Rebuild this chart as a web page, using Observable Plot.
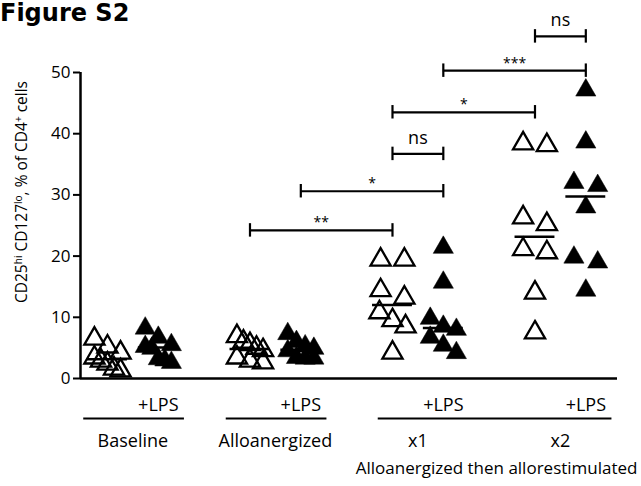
<!DOCTYPE html>
<html><head><meta charset="utf-8">
<script src="https://cdn.jsdelivr.net/npm/d3@7"></script>
<script src="https://cdn.jsdelivr.net/npm/@observablehq/plot@0.6"></script>
<style>
body{margin:0;background:#fff;}
#chart{position:relative;width:641px;height:486px;overflow:hidden;}
</style></head><body><div id="chart"></div>
<script>
// ---- data ----
const groups = ["Baseline", "Alloanergized", "x1", "x2"];
const lpsLabel = "+LPS";
const bottomLabel = "Alloanergized then allorestimulated";
const titleText = "Figure S2";
const baselineOpen = [6.5, 5.2, 4.2, 3.4, 2.9, 2.4, 1.6, 1.3];
const baselineLPS  = [8.2, 6.7, 5.5, 5.2, 4.9, 3.2, 3.0, 2.6];
const alloOpen     = [6.9, 6.0, 5.6, 5.0, 4.6, 3.4, 2.9, 2.6];
const alloLPS      = [7.3, 6.0, 5.3, 4.9, 4.5, 3.4, 3.3, 3.3];
const x1Open       = [19.4, 19.4, 14.4, 13.2, 10.8, 9.5, 8.5, 4.2];
const x1LPS        = [21.4, 15.7, 9.8, 8.5, 8.0, 6.7, 5.4, 4.2];
const x2Open       = [38.4, 38.1, 26.3, 25.2, 21.1, 20.6, 14.0, 7.5];
const x2LPS        = [47.1, 38.6, 32.0, 31.5, 28.0, 19.8, 19.0, 14.4];
const yTicks = [0, 10, 20, 30, 40, 50];
// significance comparisons
const sigLabels    = ["**", "*", "ns", "*", "***", "ns"];
const sigFromGroup = [1, 1, 2, 2, 2, 3];
const sigFromLPS   = [0, 1, 0, 0, 1, 0];
const sigToGroup   = [2, 2, 2, 3, 3, 3];
const sigToLPS     = [0, 1, 1, 0, 1, 1];
const sigHeights   = [24.2, 30.6, 36.7, 43.5, 50.3, 55.9];
const yLabelParts = [["CD25", false], ["hi", true], [" CD127", false], ["lo", true], [", % of CD4", false], ["+", true], [" cells", false]];

// ---- layout helpers ----
const pos = (g, lps) => 3 * g + 1.07 * lps;
function jitter(values) {
  const idx = values.map((v, i) => i).sort((a, b) => values[b] - values[a]);
  const off = new Array(values.length).fill(0);
  let i = 0;
  while (i < idx.length) {
    const top = values[idx[i]];
    let j = i;
    while (j < idx.length && top - values[idx[j]] < 2.8) j++;
    const k = j - i, w = Math.min((k - 1) * 0.5, 0.55);
    for (let m = 0; m < k; m++) off[idx[i + m]] = k === 1 ? 0 : -w / 2 + w * m / (k - 1);
    i = j;
  }
  return off;
}
const series = [
  [0, 0, baselineOpen], [0, 1, baselineLPS],
  [1, 0, alloOpen], [1, 1, alloLPS],
  [2, 0, x1Open], [2, 1, x1LPS],
  [3, 0, x2Open], [3, 1, x2LPS]
];
const points = [], medians = [];
for (const [g, lps, vals] of series) {
  const off = jitter(vals);
  vals.forEach((v, i) => points.push({g, lps, v, x: pos(g, lps) + off[i]}));
  medians.push({g, lps, m: d3.median(vals), x: pos(g, lps)});
}
const sig = sigLabels.map((label, i) => ({
  label, h: sigHeights[i],
  a: pos(sigFromGroup[i], sigFromLPS[i]), b: pos(sigToGroup[i], sigToLPS[i])
}));
const caps = sig.flatMap(d => [{x: d.a, h: d.h}, {x: d.b, h: d.h}]);
const lpsRows = groups.map((g, i) => ({x: pos(i, 1), t: lpsLabel}));
const groupRows = groups.map((g, i) => ({x: (pos(i, 0) + pos(i, 1)) / 2, t: g}));
const underlines = [
  {x1: pos(0, 0) - 0.5, x2: pos(0, 1) + 0.55},
  {x1: pos(1, 0) - 0.5, x2: pos(1, 1) + 0.55},
  {x1: pos(2, 0) - 0.3, x2: pos(3, 1) + 0.55}
];
const xmin = -0.568, xmax = 10.737;

const plot = Plot.plot({
  width: 641, height: 486,
  marginLeft: 80, marginRight: 24, marginTop: 72, marginBottom: 108,
  x: {domain: [xmin, xmax], axis: null},
  y: {domain: [0, 50], axis: null},
  style: {fontFamily: "'Open Sans', sans-serif", fontSize: "16px", color: "black", background: "white", overflow: "visible"},
  marks: [
    Plot.axisY({ticks: yTicks, tickSize: 7, tickPadding: 3, fontSize: 17, label: null, strokeWidth: 2}),
    Plot.ruleX([xmin], {y1: 0, y2: 50, strokeWidth: 2.5}),
    Plot.ruleY([0], {strokeWidth: 2.5}),
    Plot.dot(points.filter(d => !d.lps), {x: "x", y: "v", symbol: "triangle", r: 7.5, fill: "none", stroke: "black", strokeWidth: 2.3}),
    Plot.dot(points.filter(d => d.lps), {x: "x", y: "v", symbol: "triangle", r: 7.5, fill: "black", stroke: "black", strokeWidth: 0.5}),
    Plot.ruleY(medians, {y: "m", x1: d => d.x - 0.42, x2: d => d.x + 0.42, strokeWidth: 2.5}),
    Plot.ruleY(sig, {y: "h", x1: "a", x2: "b", strokeWidth: 2.2}),
    Plot.ruleX(caps, {x: "x", y1: d => d.h - 1.1, y2: d => d.h + 1.1, strokeWidth: 2.2}),
    Plot.text(sig.filter(d => d.label !== "ns"), {x: d => (d.a + d.b) / 2, y: "h", text: "label", lineAnchor: "bottom", dy: -3, fontSize: 14}),
    Plot.text(sig.filter(d => d.label === "ns"), {x: d => (d.a + d.b) / 2, y: "h", text: "label", lineAnchor: "bottom", dy: -10, fontSize: 18}),
    Plot.text(lpsRows, {x: "x", text: "t", frameAnchor: "bottom", lineAnchor: "bottom", dy: 32, fontSize: 18}),
    Plot.ruleY(underlines, {y: () => 0, x1: "x1", x2: "x2", dy: 40, strokeWidth: 2}),
    Plot.text(groupRows, {x: "x", text: "t", frameAnchor: "bottom", lineAnchor: "bottom", dy: 68, fontSize: 18}),
    Plot.text([bottomLabel], {frameAnchor: "bottom-right", text: d => d, textAnchor: "end", lineAnchor: "bottom", dx: 20, dy: 95, fontSize: 17})
  ]
});

const svg = d3.select(plot);
svg.append("text").attr("x", 0).attr("y", 21).attr("text-anchor", "start")
  .style("font-family", "'DejaVu Sans', sans-serif").style("font-weight", "bold").style("font-size", "24px")
  .text(titleText);
const lab = svg.append("text").attr("transform", "translate(27,192) rotate(-90)")
  .attr("text-anchor", "middle").style("font-family", "'Open Sans', sans-serif").style("font-size", "15.5px");
let prevSup = false;
for (const [t, sup] of yLabelParts) {
  const ts = lab.append("tspan").text(t);
  if (sup) ts.attr("dy", -5).style("font-size", "10px");
  else if (prevSup) ts.attr("dy", 5);
  prevSup = sup;
}
document.getElementById("chart").appendChild(plot);
</script>
</body></html>
